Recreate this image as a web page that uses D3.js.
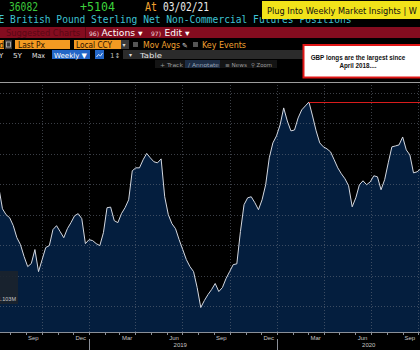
<!DOCTYPE html>
<html>
<head>
<meta charset="utf-8">
<script src="https://cdn.jsdelivr.net/npm/d3@7"></script>
<style>
  html, body { margin: 0; padding: 0; background: #000; }
  svg { display: block; }
</style>
</head>
<body>
<svg id="chart" width="420" height="350"></svg>
<script>
// GBP net non-commercial futures positions (contracts), weekly from 10 Jul 2018
const firstWeek = "2018-07-10";
const netPositions = [
  -22300, -36100, -40000, -42000, -47200, -55100, -59700, -67500, -74100, -72100,
  -62900, -77400, -69500, -61600, -60300, -49800, -47200, -51100, -55100, -49200,
  -45200, -40700, -39300, -42600, -59000, -56400, -57000, -59000, -60300, -51800,
  -35400, -35000, -43900, -45200, -39300, -35400, -30200, -11100, -9200, -9200,
  -3900, 300, -2600, -5200, -5900, -3300, -28200, -40000, -45900, -49200,
  -56400, -62900, -69500, -74100, -77400, -87900, -101000, -96400, -92500, -89200,
  -85200, -90500, -87900, -82000, -77400, -72800, -72300, -51100, -33400, -28900,
  -28200, -32100, -36700, -30200, -20300, -2600, 7200, 11800, 19000, 30200,
  21600, 15100, 15700, 23600, 28900, 31500, 34100, 24900, 15100, 7200,
  4600, 3300, 1300, -3900, -9200, -13100, -16400, -21000, -34800, -28900,
  -20300, -17700, -20300, -18400, -14400, -15100, -23600, -17000, -5900, 4600,
  5200, 5900, 11100, 2600, -700, -12500, -11800, -9800
];

// axis labels
const monthLabels = ["Sep", "Dec", "Mar", "Jun", "Sep", "Dec", "Mar", "Jun", "Sep"];
const monthLabelDates = ["2018-09-15", "2018-12-16", "2019-03-16", "2019-06-15", "2019-09-15",
                         "2019-12-16", "2020-03-16", "2020-06-15", "2020-09-15"];
const yearLabels = ["2018", "2019", "2020"];
const gridValues = [40000, 20000, 0, -20000, -40000, -60000, -80000, -100000];
const scaleBoxText = "1.103M";

// header texts
const lastValue = "36082";
const netChange = "+5104";
const asOfDate = "03/02/21";
const titleText = "E British Pound Sterling Net Non-Commercial Futures Positions";
const bannerText = "Plug Into Weekly Market Insights | W";
const noteLines = ["GBP longs are the largest since", "April 2018...."];

const parse = d3.utcParse("%Y-%m-%d");
const start = parse(firstWeek);
const data = netPositions.map((v, i) => ({ date: d3.utcWeek.offset(start, i), value: v }));

const svg = d3.select("#chart");
const W = 420, H = 350;
const plotTop = 82, plotBottom = 332;

svg.append("rect").attr("width", W).attr("height", H).attr("fill", "#000");

// ---------- scales ----------
const x = d3.scaleUtc()
  .domain([parse("2019-01-01"), parse("2020-01-01")])
  .range([89, 277]);
const y = d3.scaleLinear()
  .domain([-100000, 40000])
  .range([306, 93]);

// ---------- plot ----------
const plot = svg.append("g");

const area = d3.area()
  .x(d => x(d.date))
  .y0(plotBottom)
  .y1(d => y(d.value))
  .curve(d3.curveLinear);
const line = d3.line()
  .x(d => x(d.date))
  .y(d => y(d.value));

plot.append("path").datum(data)
  .attr("d", area)
  .attr("fill", "#041e3e");

// dotted grid
const vGrid = d3.utcMonth.every(3).range(parse("2018-07-01"), parse("2020-12-31"));
plot.append("g").selectAll("line").data(vGrid).join("line")
  .attr("x1", d => Math.round(x(d)) + 0.5).attr("x2", d => Math.round(x(d)) + 0.5)
  .attr("y1", plotTop).attr("y2", plotBottom)
  .attr("stroke", "#6b7380").attr("stroke-opacity", 0.55)
  .attr("stroke-width", 1).attr("stroke-dasharray", "1,2");
plot.append("g").selectAll("line").data(gridValues).join("line")
  .attr("x1", 0).attr("x2", W)
  .attr("y1", d => Math.round(y(d)) + 0.5).attr("y2", d => Math.round(y(d)) + 0.5)
  .attr("stroke", "#6b7380").attr("stroke-opacity", 0.55)
  .attr("stroke-width", 1).attr("stroke-dasharray", "1,2");

plot.append("path").datum(data)
  .attr("d", line)
  .attr("fill", "none")
  .attr("stroke", "#d4d8e0")
  .attr("stroke-width", 1);

// level of the largest reading, carried to the right edge
const peak = data.reduce((a, b) => (b.value > a.value ? b : a));
plot.append("line")
  .attr("x1", x(peak.date)).attr("x2", W)
  .attr("y1", Math.round(y(peak.value)) + 0.5).attr("y2", Math.round(y(peak.value)) + 0.5)
  .attr("stroke", "#d81c1c").attr("stroke-width", 1);

// top rule
svg.append("line").attr("x1", 0).attr("x2", W)
  .attr("y1", plotTop + 0.5).attr("y2", plotTop + 0.5)
  .attr("stroke", "#9c9c9c").attr("stroke-width", 1);

// scale box
svg.append("rect").attr("x", -2).attr("y", 271).attr("width", 20).attr("height", 33)
  .attr("fill", "#1b222c").attr("fill-opacity", 0.9);
svg.append("text").attr("x", 16).attr("y", 301).attr("text-anchor", "end")
  .attr("font-family", "Liberation Sans, Arial, sans-serif").attr("font-size", 5.5)
  .attr("fill", "#c8c8c8").text(scaleBoxText);

// ---------- x axis ----------
const axis = svg.append("g");
axis.append("line").attr("x1", 0).attr("x2", W)
  .attr("y1", plotBottom + 0.5).attr("y2", plotBottom + 0.5)
  .attr("stroke", "#8a8f98").attr("stroke-width", 1);
const monthTicks = d3.utcMonth.range(parse("2018-07-01"), parse("2020-11-01"));
axis.selectAll("line.mt").data(monthTicks).join("line").attr("class", "mt")
  .attr("x1", d => Math.round(x(d)) + 0.5).attr("x2", d => Math.round(x(d)) + 0.5)
  .attr("y1", plotBottom).attr("y2", plotBottom + 3)
  .attr("stroke", "#8a8f98").attr("stroke-width", 1);
axis.selectAll("text.ml").data(monthLabels).join("text").attr("class", "ml")
  .attr("x", (d, i) => x(parse(monthLabelDates[i])))
  .attr("y", 340).attr("text-anchor", "middle")
  .attr("font-family", "Liberation Sans, Arial, sans-serif").attr("font-size", 6)
  .attr("fill", "#c4c4c4").text(d => d);
axis.selectAll("text.yl").data(yearLabels).join("text").attr("class", "yl")
  .attr("x", d => x(parse(d + "-07-01")) - 2)
  .attr("y", 347).attr("text-anchor", "middle")
  .attr("font-family", "Liberation Sans, Arial, sans-serif").attr("font-size", 6)
  .attr("fill", "#c4c4c4").text(d => d);
axis.selectAll("line.yd").data(["2019-01-01", "2020-01-01"]).join("line").attr("class", "yd")
  .attr("x1", d => Math.round(x(parse(d))) + 0.5).attr("x2", d => Math.round(x(parse(d))) + 0.5)
  .attr("y1", 339).attr("y2", 350)
  .attr("stroke", "#8a8f98").attr("stroke-width", 1);

// ---------- header ----------
const hdr = svg.append("g");
const mono = "DejaVu Sans Mono, monospace";
const sans = "DejaVu Sans, Liberation Sans, sans-serif";

function txt(g, s, xPos, yPos, opts) {
  const t = g.append("text").attr("x", xPos).attr("y", yPos)
    .attr("font-family", opts.font || mono)
    .attr("font-size", opts.size || 10)
    .attr("fill", opts.fill || "#fff")
    .text(s);
  if (opts.len) t.attr("textLength", opts.len).attr("lengthAdjust", "spacingAndGlyphs");
  if (opts.weight) t.attr("font-weight", opts.weight);
  if (opts.anchor) t.attr("text-anchor", opts.anchor);
  return t;
}

// row 1: last value, change, date
txt(hdr, lastValue, 9, 11, { size: 11.5, fill: "#3cc83c", len: 29 });
txt(hdr, netChange, 80, 11, { size: 11.5, fill: "#3cd23c", len: 35 });
txt(hdr, "At", 145, 11, { size: 11.5, fill: "#f0a030", len: 12 });
txt(hdr, asOfDate, 163, 11, { size: 11.5, fill: "#ececec", len: 46 });

// row 2: security title
txt(hdr, titleText, -1.5, 23, { size: 11, fill: "#3ec3d3", len: 353 });

// banner over the title line
hdr.append("rect").attr("x", 262).attr("y", 1).attr("width", 160).attr("height", 18)
  .attr("fill", "#f1e31a");
txt(hdr, bannerText, 267, 13.5, { font: sans, size: 8.5, fill: "#111", len: 150 });

// row 3: red menu band
hdr.append("rect").attr("x", 0).attr("y", 27).attr("width", W).attr("height", 11).attr("fill", "#840c1f");
txt(hdr, "Suggested Charts", 6, 35.5, { font: sans, size: 8.5, fill: "#5a0714", len: 74 });
hdr.append("rect").attr("x", 85).attr("y", 27).attr("width", 1).attr("height", 11).attr("fill", "#5a0714");
txt(hdr, "96)", 89, 35.5, { font: sans, size: 6, fill: "#f0d8dc", len: 10 });
txt(hdr, "Actions \u25BE", 101.5, 35.5, { font: sans, size: 8.5, fill: "#fff", len: 41 });
txt(hdr, "97)", 151, 35.5, { font: sans, size: 6, fill: "#f0d8dc", len: 10 });
txt(hdr, "Edit \u25BE", 164.5, 35.5, { font: sans, size: 8.5, fill: "#fff", len: 25 });

// row 4: toolbar
const orange = "#f39a22";
hdr.append("rect").attr("x", 0).attr("y", 40).attr("width", 4).attr("height", 9).attr("fill", orange);
txt(hdr, "d", -1, 47.5, { font: sans, size: 8, fill: "#2a1200" });
hdr.append("rect").attr("x", 5).attr("y", 40).attr("width", 7).attr("height", 9).attr("fill", "#3a3a3a");
hdr.append("rect").attr("x", 6.5).attr("y", 42).attr("width", 4).attr("height", 5)
  .attr("fill", "none").attr("stroke", "#bbb").attr("stroke-width", 0.8);
hdr.append("rect").attr("x", 15).attr("y", 40).attr("width", 55).attr("height", 9).attr("fill", orange);
txt(hdr, "Last Px", 18, 47.5, { font: sans, size: 8, fill: "#2a1200", len: 27 });
hdr.append("rect").attr("x", 74).attr("y", 40).attr("width", 47).attr("height", 9).attr("fill", orange);
txt(hdr, "Local CCY", 76, 47.5, { font: sans, size: 8, fill: "#2a1200", len: 36 });
hdr.append("rect").attr("x", 121).attr("y", 40).attr("width", 8).attr("height", 9).attr("fill", "#3a3a3a");
txt(hdr, "\u25BE", 122.5, 47, { font: sans, size: 6, fill: "#ddd" });
hdr.append("rect").attr("x", 133).attr("y", 42).attr("width", 5).attr("height", 5).attr("fill", "#555");
txt(hdr, "Mov Avgs", 143, 47.5, { font: sans, size: 8, fill: "#f0a030", len: 37 });
txt(hdr, "\u270E", 182, 47.5, { font: sans, size: 7, fill: "#ddd" });
hdr.append("rect").attr("x", 193).attr("y", 42).attr("width", 5).attr("height", 5).attr("fill", "#555");
txt(hdr, "Key Events", 202, 47.5, { font: sans, size: 8, fill: "#f0a030", len: 44 });

// row 5: range selector
hdr.append("rect").attr("x", 123).attr("y", 50).attr("width", 300).attr("height", 9).attr("fill", "#2b2b2b");
txt(hdr, "Y", -1, 57.5, { font: sans, size: 7, fill: "#e6e6e6" });
txt(hdr, "5Y", 13, 57.5, { font: sans, size: 7, fill: "#e6e6e6", len: 9 });
txt(hdr, "Max", 32, 57.5, { font: sans, size: 7, fill: "#e6e6e6", len: 13 });
hdr.append("rect").attr("x", 52).attr("y", 50).attr("width", 38).attr("height", 9).attr("fill", "#2366c7");
txt(hdr, "Weekly \u25BC", 54, 57.5, { font: sans, size: 7, fill: "#fff", len: 33 });
hdr.append("rect").attr("x", 95).attr("y", 50).attr("width", 9).attr("height", 9).attr("fill", "#2366c7");
hdr.append("path").attr("d", "M96.5,57 L98.5,54.5 L100.5,56 L102.5,53")
  .attr("fill", "none").attr("stroke", "#fff").attr("stroke-width", 0.8);
txt(hdr, "1\u2195", 110, 57.5, { font: sans, size: 7, fill: "#bbb" });
txt(hdr, "\u25BE", 129, 57, { font: sans, size: 6, fill: "#ddd" });
txt(hdr, "Table", 140, 57.5, { font: sans, size: 7, fill: "#e6e6e6", len: 22 });

// row 6: chart tools
hdr.append("rect").attr("x", 155).attr("y", 60).attr("width", 122).attr("height", 8).attr("fill", "#141414");
hdr.append("rect").attr("x", 185).attr("y", 60).attr("width", 35).attr("height", 8).attr("fill", "#1c2c44");
txt(hdr, "+ Track", 160, 66.5, { font: sans, size: 5.5, fill: "#9a9a9a", len: 23 });
txt(hdr, "\u2215 Annotate", 188, 66.5, { font: sans, size: 5.5, fill: "#9aa4b4", len: 31 });
txt(hdr, "\u2261 News", 225, 66.5, { font: sans, size: 5.5, fill: "#9a9a9a", len: 22 });
txt(hdr, "\u26B2 Zoom", 251, 66.5, { font: sans, size: 5.5, fill: "#9a9a9a", len: 21 });

// ---------- note box ----------
const note = svg.append("g");
note.append("rect").attr("x", 303.5).attr("y", 45).attr("width", 130).attr("height", 32.5)
  .attr("fill", "#fff").attr("stroke", "#e01616").attr("stroke-width", 2);
note.selectAll("text").data(noteLines).join("text")
  .attr("x", 358).attr("y", (d, i) => 59.5 + i * 8)
  .attr("text-anchor", "middle")
  .attr("font-family", "Liberation Sans, Arial, sans-serif")
  .attr("font-weight", "bold").attr("font-size", 6.3)
  .attr("fill", "#111").text(d => d);
</script>
</body>
</html>
